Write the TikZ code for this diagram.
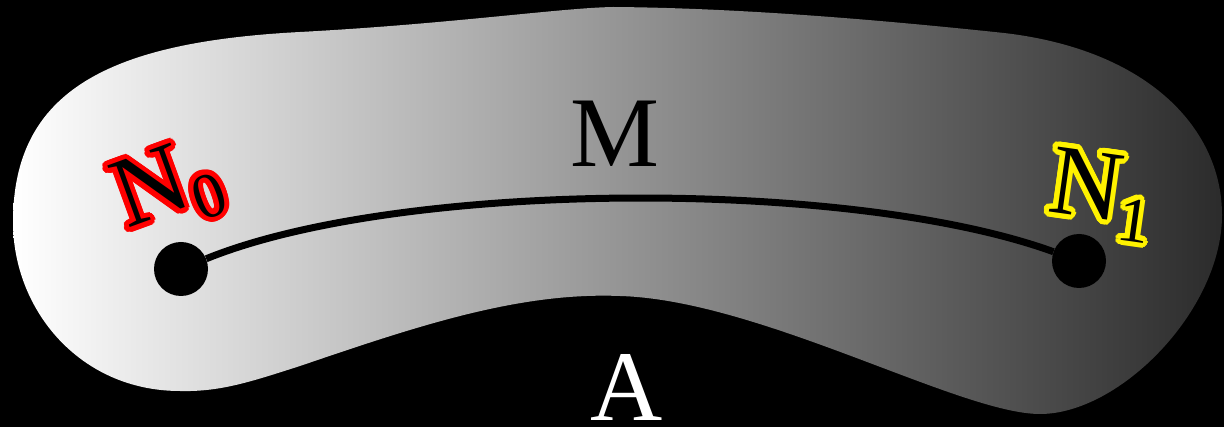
\documentclass[tikz,border=0pt]{standalone}
\usepackage{fontspec}
\setmainfont{Liberation Serif}
\usetikzlibrary{calc}
\tikzset{
  lbl/.style={inner sep=0pt, font=\fontsize{100}{100}\selectfont},
  big/.style={inner sep=0pt, anchor=base, font=\fontsize{100}{100}\selectfont},
  dot/.style={circle, fill=black, inner sep=0pt, minimum size=54pt},
  manifold/.style={left color=white, right color=black!83},
  curveline/.style={line width=7pt, black},
}
\newcommand{\sublbl}[2]{#1\raisebox{-18pt}{\fontsize{64}{64}\selectfont #2}}
\begin{document}
\begin{tikzpicture}[x=1pt,y=-1pt]
\fill[black] (0,0) rectangle (1224,427);
\useasboundingbox (0,0) rectangle (1224,427);
\shade[manifold] (13,222)
  .. controls (13,90) and (110,42) .. (300,32)
  .. controls (450,24) and (560,8) .. (613,7)
  .. controls (750,8) and (900,22) .. (1004,33)
  .. controls (1150,50) and (1222,130) .. (1222,215)
  .. controls (1222,310) and (1120,414) .. (1040,414)
  .. controls (960,414) and (760,300) .. (620,296)
  .. controls (520,292) and (420,325) .. (300,366)
  .. controls (250,382) and (220,392) .. (180,391)
  .. controls (80,391) and (13,310) .. (13,222) -- cycle;
\node[dot] (n0) at (181,269) {};
\node[dot] (n1) at (1079,261) {};
\draw[curveline] (n0) .. controls (400,180) and (850,178) .. (n1);
\node[big] (m) at (615,167) {M};
\node[big, text=white] (a) at (627,421) {A};
\foreach \r in {2,5}{
  \foreach \a in {0,15,...,345}{
    \node[lbl, rotate=20, text=red] (r\r-\a) at ($(168,189)+(\a:\r)$) {\sublbl{N}{0}};
    \node[lbl, rotate=-8, text=yellow] (y\r-\a) at ($(1101,195)+(\a:\r)$) {\sublbl{N}{1}};
  }
}
\node[lbl, rotate=20] (l0) at (168,189) {\sublbl{N}{0}};
\node[lbl, rotate=-8] (l1) at (1101,195) {\sublbl{N}{1}};
\end{tikzpicture}
\end{document}
